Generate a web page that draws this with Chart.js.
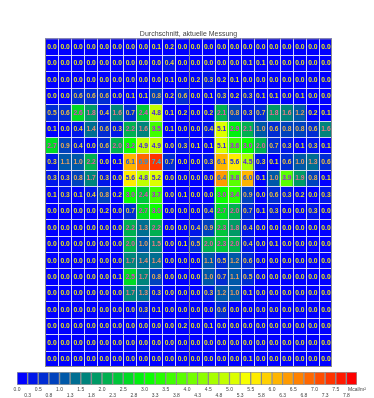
<!DOCTYPE html>
<html>
<head>
<meta charset="utf-8">
<script src="https://cdn.jsdelivr.net/npm/chart.js@4.4.1/dist/chart.umd.min.js"></script>
<style>
  html, body { margin: 0; padding: 0; background: #fff; }
  #wrap { position: relative; width: 374px; height: 398px; overflow: hidden; }
  #grid { position: absolute; left: 45px; top: 28px; }
  #scale { position: absolute; left: 0; top: 372px; }
</style>
</head>
<body>
<div id="wrap">
  <canvas id="grid" width="287" height="339"></canvas>
  <canvas id="scale" width="374" height="26"></canvas>
</div>
<script>
// columns of the grid (22) and measured values per row (top to bottom)
const columns = ["1","2","3","4","5","6","7","8","9","10","11","12","13","14","15","16","17","18","19","20","21","22"];
const row01 = [0.0,0.0,0.0,0.0,0.0,0.0,0.0,0.0,0.1,0.2,0.0, 0.0,0.0,0.0,0.0,0.0,0.0,0.0,0.0,0.0,0.0,0.0];
const row02 = [0.0,0.0,0.0,0.0,0.0,0.0,0.0,0.0,0.0,0.4,0.0, 0.0,0.0,0.0,0.0,0.1,0.1,0.0,0.0,0.0,0.0,0.0];
const row03 = [0.0,0.0,0.0,0.0,0.0,0.0,0.0,0.0,0.0,0.1,0.0, 0.2,0.3,0.2,0.1,0.0,0.0,0.0,0.0,0.0,0.0,0.0];
const row04 = [0.0,0.0,0.6,0.6,0.6,0.0,0.1,0.1,0.8,0.2,0.6, 0.0,0.1,0.3,0.2,0.3,0.1,0.1,0.0,0.1,0.0,0.0];
const row05 = [0.5,0.6,2.6,1.8,0.4,1.6,0.7,2.4,4.8,0.1,0.2, 0.0,0.2,2.1,0.8,0.3,0.7,1.8,1.6,1.2,0.2,0.1];
const row06 = [0.1,0.0,0.4,1.4,0.6,0.3,2.2,1.6,3.5,0.1,0.0, 0.0,0.4,5.1,2.9,2.1,1.0,0.6,0.8,0.8,0.6,1.6];
const row07 = [2.7,0.9,0.4,0.0,0.6,2.0,3.2,4.9,4.9,0.0,0.3, 0.1,0.1,5.1,3.6,3.0,2.0,0.7,0.3,0.1,0.3,0.1];
const row08 = [0.3,1.1,1.0,2.2,0.0,0.1,6.1,6.9,7.4,0.7,0.0, 0.0,0.3,6.1,5.6,4.5,0.3,0.1,0.6,1.0,1.3,0.6];
const row09 = [0.3,0.3,0.8,1.7,0.3,0.0,5.6,4.8,5.2,0.0,0.0, 0.0,0.0,6.4,3.8,6.0,0.1,1.0,3.9,1.9,0.8,0.1];
const row10 = [0.1,0.3,0.1,0.4,0.8,0.2,3.0,2.4,3.7,0.0,0.1, 0.0,0.0,3.0,3.4,0.9,0.0,0.6,0.3,0.2,0.0,0.3];
const row11 = [0.0,0.0,0.0,0.0,0.2,0.0,0.7,2.7,3.0,0.0,0.0, 0.0,0.4,2.7,2.0,0.7,0.1,0.3,0.0,0.0,0.3,0.0];
const row12 = [0.0,0.0,0.0,0.0,0.0,0.0,2.2,1.3,2.2,0.0,0.0, 0.4,0.9,2.3,1.8,0.4,0.0,0.0,0.0,0.0,0.0,0.0];
const row13 = [0.0,0.0,0.0,0.0,0.0,0.0,2.0,1.0,1.5,0.0,0.1, 0.5,2.0,2.3,2.0,0.4,0.0,0.1,0.0,0.0,0.0,0.0];
const row14 = [0.0,0.0,0.0,0.0,0.0,0.0,1.7,1.4,1.4,0.0,0.0, 0.0,1.1,0.5,1.2,0.6,0.0,0.0,0.0,0.0,0.0,0.0];
const row15 = [0.0,0.0,0.0,0.0,0.0,0.1,2.5,1.7,0.8,0.0,0.0, 0.0,1.0,0.7,1.1,0.5,0.0,0.0,0.0,0.0,0.0,0.0];
const row16 = [0.0,0.0,0.0,0.0,0.0,0.0,1.7,1.3,0.3,0.0,0.0, 0.0,0.3,1.2,1.0,0.1,0.0,0.0,0.0,0.0,0.0,0.0];
const row17 = [0.0,0.0,0.0,0.0,0.0,0.0,0.0,0.3,0.1,0.0,0.0, 0.0,0.0,0.6,0.0,0.0,0.0,0.0,0.0,0.0,0.0,0.0];
const row18 = [0.0,0.0,0.0,0.0,0.0,0.0,0.0,0.0,0.0,0.0,0.2, 0.0,0.1,0.0,0.0,0.0,0.0,0.0,0.0,0.0,0.0,0.0];
const row19 = [0.0,0.0,0.0,0.0,0.0,0.0,0.0,0.0,0.0,0.0,0.0, 0.0,0.0,0.0,0.0,0.0,0.0,0.0,0.0,0.0,0.0,0.0];
const row20 = [0.0,0.0,0.0,0.0,0.0,0.0,0.0,0.0,0.0,0.0,0.0, 0.0,0.0,0.0,0.0,0.1,0.0,0.0,0.0,0.0,0.0,0.0];
const rows = [row01,row02,row03,row04,row05,row06,row07,row08,row09,row10,
              row11,row12,row13,row14,row15,row16,row17,row18,row19,row20];

// colour scale: 0..8 in steps of 0.25, tick labels in two staggered rows
const scaleMax = 8, scaleStep = 0.25;
const scaleTop = ["0.0","0.5","1.0","1.5","2.0","2.5","3.0","3.5","4.0","4.5","5.0","5.5","6.0","6.5","7.0","7.5","Mcal/m²"];
const scaleBottom = ["0.3","0.8","1.3","1.8","2.3","2.8","3.3","3.8","4.3","4.8","5.3","5.8","6.3","6.8","7.3","7.8"];

// palette: blue -> teal -> green -> yellow -> red
const stops = [
  [0.0, [0, 0, 255]],
  [1.5, [0, 128, 128]],
  [3.0, [0, 255, 0]],
  [5.5, [255, 255, 0]],
  [6.2, [255, 180, 0]],
  [8.0, [255, 0, 0]]
];
const binCount = scaleMax / scaleStep;

function binRgb(k) {
  const t = k * scaleMax / (binCount - 1);
  for (let i = 1; i < stops.length; i++) {
    if (t <= stops[i][0]) {
      const a = stops[i - 1], b = stops[i];
      const f = (t - a[0]) / (b[0] - a[0]);
      return a[1].map((c, j) => Math.round(c + (b[1][j] - c) * f));
    }
  }
  return stops[stops.length - 1][1];
}
function binOf(v) { return Math.min(binCount - 1, Math.floor(v / scaleStep + 1e-9)); }
function cellColor(v) { const c = binRgb(binOf(v)); return `rgb(${c[0]},${c[1]},${c[2]})`; }
function textColor(v) {
  const c = binRgb(binOf(v)).map(x => Math.round((255 - x) * 0.8 + 128 * 0.2));
  return `rgb(${c[0]},${c[1]},${c[2]})`;
}

// cell values, grid lines and frame
const cellText = {
  id: 'cellText',
  afterDatasetsDraw(chart) {
    const ctx = chart.ctx, a = chart.chartArea;
    const xs = chart.scales.x, ys = chart.scales.y;
    const w = (a.right - a.left) / columns.length;
    ctx.save();
    // white separators
    ctx.strokeStyle = 'rgba(235,235,250,0.9)';
    ctx.lineWidth = 1;
    ctx.beginPath();
    for (let i = 1; i < columns.length; i++) {
      const x = Math.round(a.left + i * w) + 0.5;
      ctx.moveTo(x, a.top); ctx.lineTo(x, a.bottom);
    }
    for (let r = 1; r < rows.length; r++) {
      const y = Math.round(ys.getPixelForValue(r)) + 0.5;
      ctx.moveTo(a.left, y); ctx.lineTo(a.right, y);
    }
    ctx.stroke();
    // middle divider and frame
    ctx.strokeStyle = '#8a8a8a';
    ctx.beginPath();
    const mid = Math.round((xs.getPixelForValue(10) + xs.getPixelForValue(11)) / 2) + 0.5;
    ctx.moveTo(mid, a.top); ctx.lineTo(mid, a.bottom);
    ctx.strokeRect(a.left + 0.5, a.top + 0.5, a.right - a.left - 1, a.bottom - a.top - 1);
    ctx.stroke();
    // values
    ctx.font = 'bold 6.7px "Liberation Sans", Arial, sans-serif';
    ctx.textAlign = 'center';
    ctx.textBaseline = 'middle';
    rows.forEach((vals, r) => {
      chart.getDatasetMeta(r).data.forEach((bar, c) => {
        ctx.fillStyle = textColor(vals[c]);
        ctx.fillText(vals[c].toFixed(1), bar.x + 0.5, (bar.y + bar.base) / 2 + 0.5);
      });
    });
    ctx.restore();
  }
};

new Chart(document.getElementById('grid'), {
  type: 'bar',
  data: {
    labels: columns,
    datasets: rows.map((vals, r) => ({
      label: 'Reihe ' + (r + 1),
      data: vals.map(() => [r, r + 1]),
      backgroundColor: vals.map(cellColor),
      borderWidth: 0,
      grouped: false,
      barPercentage: 1,
      categoryPercentage: 1
    }))
  },
  options: {
    responsive: false,
    animation: false,
    layout: { padding: 0 },
    plugins: {
      legend: { display: false },
      tooltip: { enabled: false },
      title: {
        display: true,
        text: 'Durchschnitt, aktuelle Messung',
        color: '#444',
        font: { family: '"Liberation Sans", Arial, sans-serif', size: 7, weight: 'normal' },
        padding: { top: 2, bottom: 0 }
      }
    },
    scales: {
      x: { display: false },
      y: { display: false, min: 0, max: rows.length, reverse: true }
    }
  },
  plugins: [cellText]
});

// colour bar
new Chart(document.getElementById('scale'), {
  type: 'bar',
  data: {
    labels: ['Skala'],
    datasets: Array.from({ length: binCount }, (_, k) => ({
      data: [[k * scaleStep, (k + 1) * scaleStep]],
      backgroundColor: cellColor(k * scaleStep),
      borderColor: 'rgba(40,40,40,0.45)',
      borderWidth: 1,
      borderSkipped: false,
      grouped: false,
      barPercentage: 1,
      categoryPercentage: 1
    }))
  },
  options: {
    indexAxis: 'y',
    responsive: false,
    animation: false,
    layout: { padding: { left: 17, right: 17, top: 0, bottom: 0 } },
    plugins: { legend: { display: false }, tooltip: { enabled: false } },
    scales: {
      y: { display: false },
      x: {
        min: 0, max: scaleMax,
        grid: { display: false, drawTicks: false },
        border: { display: false },
        ticks: {
          stepSize: scaleStep,
          autoSkip: false,
          maxRotation: 0,
          padding: 2,
          color: '#444',
          font: { family: '"Liberation Sans", Arial, sans-serif', size: 5, lineHeight: 1.2 },
          callback: (v, i) => i % 2 === 0 ? scaleTop[i / 2] : ['', scaleBottom[(i - 1) / 2]]
        }
      }
    }
  }
});
</script>
</body>
</html>
